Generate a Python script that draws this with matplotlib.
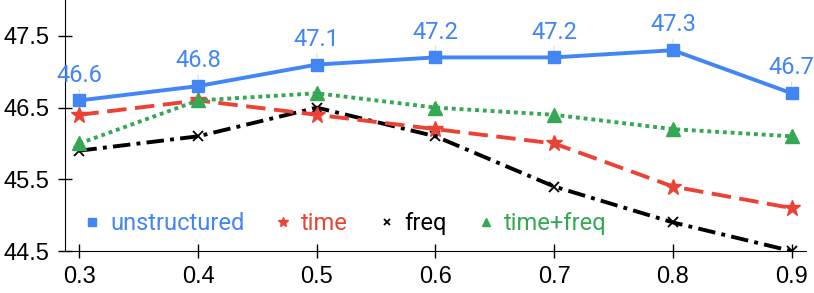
import matplotlib
matplotlib.use('Agg')
import matplotlib.pyplot as plt

plt.rcParams['font.family'] = ['Liberation Sans', 'DejaVu Sans']

# data
ratios = [0.3, 0.4, 0.5, 0.6, 0.7, 0.8, 0.9]
unstructured = [46.6, 46.8, 47.1, 47.2, 47.2, 47.3, 46.7]
time = [46.4, 46.6, 46.4, 46.2, 46.0, 45.4, 45.1]
freq = [45.9, 46.1, 46.5, 46.1, 45.4, 44.9, 44.5]
time_freq = [46.0, 46.6, 46.7, 46.5, 46.4, 46.2, 46.1]

blue = '#4285F4'
red = '#EA4335'
green = '#34A853'

fig = plt.figure(figsize=(8.14, 2.93), dpi=100)
ax = fig.add_axes([0.08, 0.143, 0.91, 0.857])

lw = 2.8
ax.plot(ratios, unstructured, color=blue, lw=lw, marker='s', ms=8.5, label='unstructured', zorder=5)
ax.plot(ratios, time, color=red, lw=lw, ls=(0, (5, 2.2)), marker='*', ms=12, label='time', zorder=3)
ax.plot(ratios, freq, color='black', lw=lw, ls=(0, (4.5, 1.6, 1, 1.6)), marker='x', ms=7,
        mew=1.3, label='freq', zorder=2)
ax.plot(ratios, time_freq, color=green, lw=lw, ls=(0, (1, 1)), marker='^', ms=9.5,
        label='time+freq', zorder=4)

# value labels with faint leader lines
for x, y in zip(ratios, unstructured):
    ax.annotate(f'{y:.1f}', xy=(x, y), xytext=(0, 10), textcoords='offset points',
                ha='center', va='bottom', color=blue, fontsize=17, family='Roboto',
                arrowprops=dict(arrowstyle='-', color='#dddddd', lw=0.8,
                                shrinkA=0, shrinkB=5))

ax.set_xlim(0.288, 0.912)
ax.set_ylim(44.5, 48.0)
ax.set_xticks(ratios)
ax.set_yticks([44.5, 45.5, 46.5, 47.5])
ax.tick_params(direction='inout', length=10, width=1, labelsize=17, pad=6)
for s in ['top', 'right']:
    ax.spines[s].set_visible(False)

leg = ax.legend(loc='lower left', bbox_to_anchor=(0.0, -0.02), ncol=4, frameon=False,
                prop={'family': 'Roboto', 'size': 17}, handlelength=0.5, handletextpad=0.5,
                columnspacing=1.4, markerscale=0.6)
for h in leg.legend_handles:
    h.set_linestyle('')
for t, c in zip(leg.get_texts(), [blue, red, 'black', green]):
    t.set_color(c)

fig.savefig('out.png', dpi=100)
